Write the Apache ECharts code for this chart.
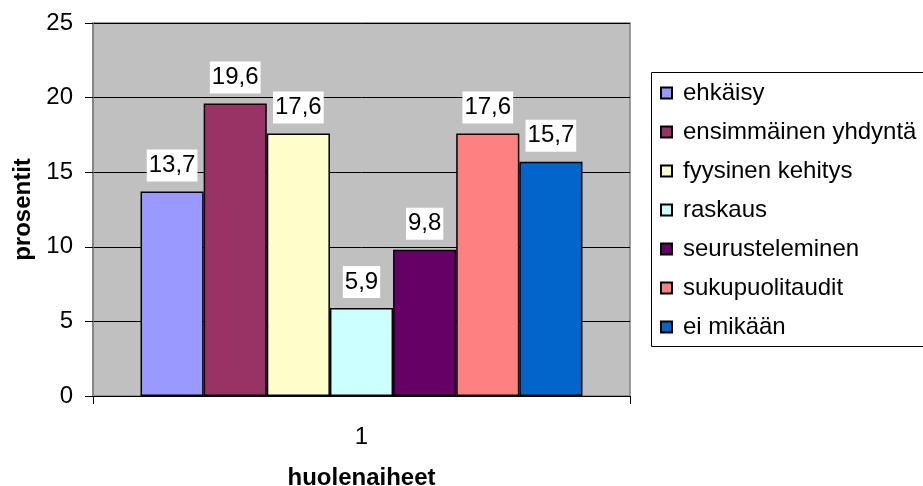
<!DOCTYPE html>
<html>
<head>
<meta charset="utf-8">
<script src="https://cdn.jsdelivr.net/npm/echarts@6/dist/echarts.min.js"></script>
<style>
  html, body { margin: 0; padding: 0; background: #ffffff; overflow: hidden; }
  #chart { width: 923px; height: 486px; }
</style>
</head>
<body>
<div id="chart"></div>
<script>
// Huolenaiheet (concerns), percentage of respondents per topic
const categories = ['1'];
const seriesNames = [
  'ehkäisy',
  'ensimmäinen yhdyntä',
  'fyysinen kehitys',
  'raskaus',
  'seurusteleminen',
  'sukupuolitaudit',
  'ei mikään'
];
const seriesValues = [13.7, 19.6, 17.6, 5.9, 9.8, 17.6, 15.7];
const seriesColors = ['#9999FF', '#993366', '#FFFFCC', '#CCFFFF', '#660066', '#FF8080', '#0066CC'];
const yTicks = [0, 5, 10, 15, 20, 25];

const FONT = 'Arial, "Liberation Sans", sans-serif';

const chart = echarts.init(document.getElementById('chart'), null, { renderer: 'canvas' });

const series = seriesNames.map((name, i) => ({
  name: name,
  type: 'bar',
  data: [seriesValues[i]],
  barGap: '0%',
  barCategoryGap: '17.7%',
  itemStyle: {
    color: seriesColors[i],
    borderColor: '#000000',
    borderWidth: 1.5
  },
  label: {
    show: true,
    position: 'top',
    distance: 10,
    formatter: p => String(p.value).replace('.', ','),
    fontFamily: FONT,
    fontSize: 24,
    lineHeight: 24,
    color: '#000000',
    backgroundColor: '#ffffff',
    padding: [4, 2, 4, 2]
  },
  emphasis: { disabled: true }
}));

chart.setOption({
  animation: false,
  backgroundColor: '#ffffff',
  textStyle: { fontFamily: FONT },
  grid: {
    left: 93,
    top: 23,
    right: 293,
    bottom: 90,
    outerBoundsMode: 'none',
    containLabel: false,
    show: true,
    backgroundColor: '#C0C0C0',
    borderColor: '#808080',
    borderWidth: 1.5
  },
  legend: {
    orient: 'vertical',
    left: 651,
    top: 72,
    padding: [8, 20, 7, 9],
    itemWidth: 11,
    itemHeight: 11,
    itemGap: 13,
    borderWidth: 0,
    icon: 'rect',
    selectedMode: false,
    textStyle: {
      fontFamily: FONT,
      fontSize: 24,
      color: '#000000',
      lineHeight: 26,
      padding: [0, 0, 0, 6]
    },
    data: seriesNames
  },
  // legend frame, running off the right edge of the canvas
  graphic: [{
    type: 'rect',
    silent: true,
    shape: { x: 651.5, y: 72.5, width: 320, height: 274 },
    style: { fill: 'none', stroke: '#000000', lineWidth: 1 }
  }],
  xAxis: {
    type: 'category',
    data: categories,
    name: 'huolenaiheet',
    nameLocation: 'middle',
    nameGap: 70,
    nameTextStyle: { fontFamily: FONT, fontSize: 24, fontWeight: 'bold', color: '#000000' },
    axisLine: { lineStyle: { color: '#000000', width: 1 } },
    axisTick: { show: true, length: 8, lineStyle: { color: '#000000' } },
    axisLabel: { margin: 29, fontFamily: FONT, fontSize: 24, color: '#000000' }
  },
  yAxis: {
    type: 'value',
    min: yTicks[0],
    max: yTicks[yTicks.length - 1],
    interval: 5,
    name: 'prosentit',
    nameLocation: 'middle',
    nameRotate: 90,
    nameGap: 57,
    nameTextStyle: { fontFamily: FONT, fontSize: 24, fontWeight: 'bold', color: '#000000' },
    axisLine: { show: true, lineStyle: { color: '#808080', width: 1.5 } },
    axisTick: { show: true, length: 8, lineStyle: { color: '#000000' } },
    axisLabel: { margin: 20, fontFamily: FONT, fontSize: 24, color: '#000000' },
    splitLine: { show: true, lineStyle: { color: '#000000', width: 1 } }
  },
  series: series
});
</script>
</body>
</html>
